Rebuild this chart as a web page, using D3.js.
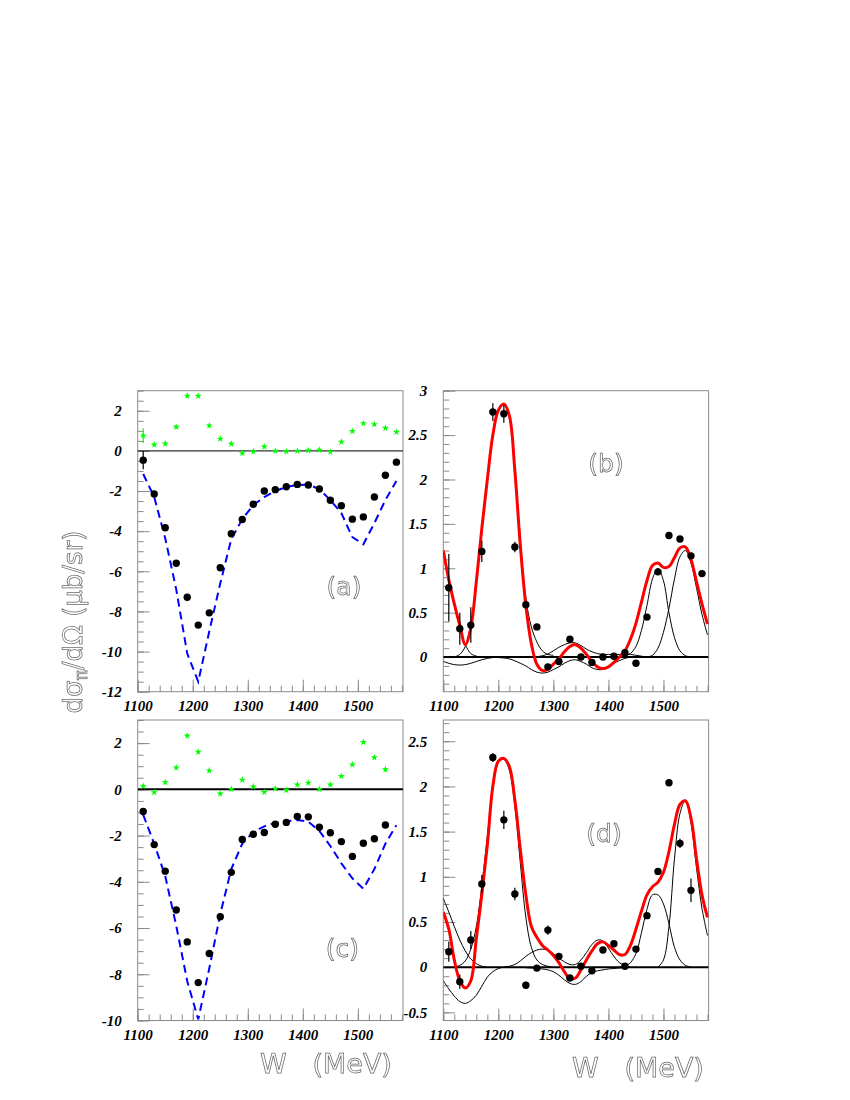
<!DOCTYPE html>
<html><head><meta charset="utf-8">
<script src="https://cdn.jsdelivr.net/npm/d3@7"></script>
<style>
body{margin:0;background:#fff;}
.tick text{font-family:"Liberation Serif","DejaVu Serif",serif;font-weight:bold;font-style:italic;font-size:15px;fill:#000;}
.hollow{font-family:"DejaVu Sans",sans-serif;fill:#fff;stroke:#6a6a6a;stroke-width:0.75px;}
.titles{opacity:0.995;}
</style>
</head><body>
<script>
// ---------------- DATA ----------------
const W24 = [1110,1130,1150,1170,1190,1210,1230,1250,1270,1290,1310,1330,1350,1370,1390,1410,1430,1450,1470,1490,1510,1530,1550,1570];
const W23 = W24.slice(0,23);
const xTicks = [1100,1200,1300,1400,1500];
const aYTicks = [-12,-10,-8,-6,-4,-2,0,2];
const bYTicks = [0,0.5,1,1.5,2,2.5,3];
const cYTicks = [-10,-8,-6,-4,-2,0,2];
const dYTicks = [-0.5,0,0.5,1,1.5,2,2.5];

// panel (a)
const aDots = [-0.46,-2.15,-3.83,-5.60,-7.29,-8.68,-8.07,-5.82,-4.13,-3.42,-2.66,-2.00,-1.93,-1.79,-1.67,-1.70,-1.90,-2.46,-2.73,-3.40,-3.29,-2.30,-1.21,-0.56];
const aDotErr = [0.45,0.12,0.12,0.12,0.12,0.12,0.12,0.1,0.1,0.1,0.1,0.1,0.1,0.1,0.1,0.1,0.1,0.1,0.1,0.1,0.1,0.1,0.1,0.1];
const aStars = [0.76,0.31,0.36,1.19,2.74,2.74,1.26,0.60,0.35,-0.12,-0.03,0.21,0.00,-0.03,0.00,0.02,0.05,-0.05,0.45,0.98,1.37,1.32,1.14,0.94];
const aStarErr = [0.37,0.1,0.1,0.1,0.1,0.1,0.05,0.05,0.05,0.05,0.05,0.05,0.05,0.05,0.05,0.05,0.05,0.05,0.05,0.05,0.05,0.05,0.05,0.05];
const aModel = [-1.15,-2.3,-4.35,-6.9,-10.1,-11.5,-9.0,-6.6,-4.4,-3.4,-2.7,-2.3,-2.0,-1.8,-1.7,-1.68,-1.9,-2.45,-3.1,-4.3,-4.65,-3.6,-2.45,-1.5];

// panel (b)
const bDots = [0.78,0.32,0.36,1.19,2.76,2.74,1.24,0.59,0.34,-0.11,-0.05,0.20,0.00,-0.06,0.00,0.01,0.05,-0.07,0.45,0.96,1.37,1.33,1.14,0.94];
const bErr = [0.38,0.18,0.2,0.12,0.1,0.1,0.06,0.03,0.03,0.03,0.03,0.03,0.03,0.03,0.03,0.03,0.03,0.03,0.03,0.03,0.03,0.03,0.03,0.03];
const bTotal = [[1100,1.20],[1110,0.87],[1120,0.60],[1130,0.36],[1140,0.14],[1150,0.33],[1160,0.85],[1170,1.45],[1180,2.00],[1190,2.50],[1200,2.78],[1210,2.85],[1220,2.72],[1230,2.10],[1240,1.25],[1250,0.58],[1260,0.15],[1270,-0.08],[1280,-0.15],[1290,-0.14],[1300,-0.08],[1310,-0.02],[1320,0.06],[1330,0.12],[1340,0.14],[1350,0.10],[1360,0.03],[1370,-0.05],[1380,-0.11],[1390,-0.13],[1400,-0.11],[1410,-0.06],[1420,0.00],[1430,0.07],[1440,0.20],[1450,0.38],[1460,0.62],[1470,0.86],[1480,1.03],[1490,1.06],[1500,1.01],[1510,1.02],[1520,1.12],[1530,1.23],[1540,1.24],[1550,1.10],[1560,0.85],[1570,0.60],[1580,0.37]];
const bLeftPos = [[1100,1.18],[1110,0.87],[1120,0.58],[1130,0.33],[1140,0.14],[1150,0.04],[1160,0.01],[1170,0],[1180,0]];
const bDelta = [[1120,0],[1130,0.03],[1140,0.12],[1150,0.36],[1160,0.86],[1170,1.46],[1180,2.0],[1190,2.5],[1200,2.78],[1210,2.85],[1220,2.72],[1230,2.12],[1240,1.32],[1250,0.66],[1260,0.34],[1270,0.17],[1280,0.07],[1290,0.03],[1300,0.02]];
const bLeftNeg = [[1100,-0.05],[1110,-0.07],[1120,-0.085],[1130,-0.09],[1140,-0.085],[1150,-0.07],[1160,-0.05],[1170,-0.03],[1180,-0.015],[1190,-0.005],[1200,0]];
const bMidUpper = [[1250,0],[1270,0.005],[1280,0.015],[1290,0.035],[1300,0.07],[1310,0.11],[1320,0.14],[1330,0.16],[1340,0.16],[1350,0.13],[1360,0.09],[1370,0.06],[1380,0.04],[1390,0.03],[1400,0.03],[1410,0.03],[1420,0.03],[1430,0.04],[1440,0.03],[1450,0.02],[1460,0.01],[1470,0]];
const bMidLower = [[1190,0],[1200,-0.005],[1220,-0.02],[1240,-0.07],[1250,-0.1],[1260,-0.14],[1270,-0.17],[1280,-0.18],[1290,-0.17],[1300,-0.14],[1310,-0.11],[1320,-0.07],[1330,-0.04],[1340,-0.03],[1350,-0.05],[1360,-0.08],[1370,-0.12],[1380,-0.14],[1390,-0.14],[1400,-0.11],[1410,-0.07],[1420,-0.04],[1430,-0.015],[1440,0]];
const bG1490 = [[1420,0],[1430,0.01],[1440,0.04],[1450,0.12],[1460,0.3],[1470,0.58],[1480,0.88],[1490,1.0],[1500,0.86],[1510,0.5],[1520,0.22],[1530,0.07],[1540,0.015],[1550,0]];
const bG1535 = [[1470,0],[1480,0.02],[1490,0.1],[1500,0.28],[1510,0.55],[1520,0.88],[1530,1.13],[1540,1.2],[1550,1.06],[1560,0.78],[1570,0.48],[1580,0.25]];

// panel (c)
const cDots = [-0.96,-2.39,-3.54,-5.22,-6.60,-8.36,-7.10,-5.51,-3.59,-2.17,-1.94,-1.87,-1.51,-1.43,-1.17,-1.19,-1.64,-1.88,-2.26,-2.90,-2.33,-2.14,-1.54];
const cDotErr = [0.12,0.12,0.12,0.12,0.12,0.12,0.12,0.1,0.1,0.1,0.1,0.1,0.1,0.1,0.1,0.1,0.1,0.1,0.1,0.1,0.1,0.1,0.1];
const cStars = [0.14,-0.13,0.30,0.94,2.32,1.62,0.81,-0.19,0.01,0.41,0.12,-0.12,0.03,-0.04,0.20,0.28,0.01,0.20,0.57,1.07,2.04,1.38,0.86];
const cStarErr = [0.08,0.06,0.08,0.08,0.05,0.08,0.06,0.04,0.03,0.04,0.03,0.03,0.03,0.03,0.03,0.03,0.03,0.03,0.03,0.03,0.03,0.05,0.1];
const cModel = [-1.1,-2.35,-3.75,-5.9,-8.3,-9.95,-7.75,-5.4,-3.45,-2.35,-1.85,-1.6,-1.45,-1.38,-1.33,-1.4,-1.8,-2.45,-3.2,-3.85,-4.3,-3.45,-2.35,-1.55];

// panel (d)
const dDots = [0.17,-0.16,0.30,0.92,2.32,1.63,0.81,-0.20,-0.01,0.41,0.12,-0.12,0.01,-0.04,0.19,0.26,0.01,0.20,0.57,1.06,2.04,1.37,0.85];
const dErr = [0.11,0.08,0.1,0.1,0.05,0.1,0.07,0.04,0.03,0.05,0.03,0.03,0.03,0.03,0.03,0.03,0.03,0.03,0.03,0.03,0.03,0.05,0.13];
const dTotal = [[1100,0.61],[1110,0.42],[1120,0.08],[1130,-0.15],[1140,-0.23],[1150,-0.15],[1160,0.32],[1170,0.80],[1180,1.35],[1190,2.0],[1200,2.28],[1210,2.31],[1220,2.22],[1230,1.85],[1240,1.30],[1250,0.80],[1260,0.45],[1270,0.33],[1280,0.24],[1290,0.19],[1300,0.13],[1310,0.05],[1320,-0.05],[1330,-0.13],[1340,-0.12],[1350,-0.03],[1360,0.08],[1370,0.18],[1380,0.26],[1390,0.28],[1400,0.24],[1410,0.19],[1420,0.14],[1430,0.14],[1440,0.24],[1450,0.42],[1460,0.62],[1470,0.80],[1480,0.89],[1490,0.94],[1500,1.05],[1510,1.28],[1520,1.58],[1530,1.80],[1540,1.84],[1550,1.65],[1560,1.2],[1570,0.8],[1580,0.55]];
const dLeftPos = [[1100,0.76],[1110,0.61],[1120,0.45],[1130,0.3],[1140,0.18],[1150,0.09],[1160,0.04],[1170,0.01],[1180,0]];
const dDelta = [[1120,0],[1130,0.02],[1140,0.07],[1150,0.2],[1160,0.45],[1170,0.9],[1180,1.45],[1190,1.98],[1200,2.26],[1210,2.3],[1220,2.18],[1230,1.78],[1240,1.15],[1250,0.55],[1260,0.22],[1270,0.08],[1280,0.03],[1290,0.01],[1300,0]];
const dLeftNeg = [[1100,-0.15],[1110,-0.24],[1120,-0.32],[1130,-0.38],[1140,-0.40],[1150,-0.37],[1160,-0.31],[1170,-0.21],[1180,-0.11],[1190,-0.05],[1200,-0.015],[1210,0],[1220,0]];
const dMidUpper = [[1210,0],[1220,0.01],[1230,0.03],[1240,0.07],[1250,0.12],[1260,0.16],[1270,0.19],[1280,0.2],[1290,0.19],[1300,0.15],[1310,0.1],[1320,0.06],[1330,0.03],[1340,0.03],[1350,0.08],[1360,0.16],[1370,0.25],[1380,0.3],[1390,0.29],[1400,0.21],[1410,0.12],[1420,0.05],[1430,0.02],[1440,0]];
const dMidLower = [[1240,0],[1260,-0.01],[1280,-0.02],[1290,-0.03],[1300,-0.05],[1310,-0.09],[1320,-0.14],[1330,-0.18],[1340,-0.19],[1350,-0.16],[1360,-0.1],[1370,-0.06],[1380,-0.04],[1390,-0.03],[1400,-0.02],[1420,-0.01],[1440,0]];
const dG1480 = [[1420,0],[1430,0.01],[1440,0.05],[1450,0.15],[1460,0.38],[1470,0.64],[1480,0.8],[1490,0.8],[1500,0.7],[1510,0.48],[1520,0.22],[1530,0.08],[1540,0.02],[1550,0]];
const dG1540 = [[1490,0],[1500,0.08],[1510,0.45],[1520,1.2],[1530,1.7],[1540,1.85],[1550,1.6],[1560,1.1],[1570,0.65],[1580,0.35]];

// ---------------- DRAW ----------------
const svg = d3.select("body").append("svg").attr("width",850).attr("height",1100);
const FRAME = "#8a8a8a";
const titles = svg.append("g").attr("class","titles");

function makePanel(o){
  const x = d3.scaleLinear().domain([1100,1582]).range([o.x0, o.x1]);
  const y = d3.scaleLinear().domain(o.yDom).range([o.y1, o.y0]);
  const g = svg.append("g");
  const cid = "clip"+o.name;
  svg.append("clipPath").attr("id",cid).append("rect")
    .attr("x",o.x0).attr("y",o.y0).attr("width",o.x1-o.x0).attr("height",o.y1-o.y0);
  const yMinor = d3.range(Math.ceil(o.yDom[0]/o.yMinorStep)*o.yMinorStep, o.yDom[1]+1e-9, o.yMinorStep);
  const xMinor = d3.range(1100, 1582, 20);
  const yaxMinor = g.append("g").attr("transform",`translate(${o.x0},0)`)
    .call(d3.axisLeft(y).tickValues(yMinor).tickSize(-6).tickFormat(""));
  const yax = g.append("g").attr("transform",`translate(${o.x0},0)`)
    .call(d3.axisLeft(y).tickValues(o.yTicks).tickSize(-12).tickPadding(16).tickFormat(d=>String(d)));
  const xaxMinor = g.append("g").attr("transform",`translate(0,${o.y1})`)
    .call(d3.axisBottom(x).tickValues(xMinor).tickSize(-6).tickFormat(""));
  const xax = g.append("g").attr("transform",`translate(0,${o.y1})`)
    .call(d3.axisBottom(x).tickValues(xTicks).tickSize(-12).tickPadding(9).tickFormat(d=>String(d)));
  [yaxMinor,yax,xaxMinor,xax].forEach(a=>{
    a.select(".domain").remove();
    a.selectAll(".tick line").attr("stroke",FRAME);
  });
  g.append("rect").attr("x",o.x0).attr("y",o.y0).attr("width",o.x1-o.x0).attr("height",o.y1-o.y0)
    .attr("fill","none").attr("stroke",FRAME).attr("stroke-width",1);
  const pg = g.append("g").attr("clip-path",`url(#${cid})`);
  pg.append("line").attr("x1",o.x0).attr("x2",o.x1).attr("y1",y(0)).attr("y2",y(0))
    .attr("stroke","#000").attr("stroke-width",o.zeroW);
  return {x,y,g,pg};
}

function drawErrDots(P, xs, vs, es, color){
  P.pg.append("g").selectAll("line").data(xs).join("line")
    .attr("x1",(d)=>P.x(d)).attr("x2",(d)=>P.x(d))
    .attr("y1",(d,i)=>P.y(vs[i]-es[i])).attr("y2",(d,i)=>P.y(vs[i]+es[i]))
    .attr("stroke",color).attr("stroke-width",1.2);
  P.pg.append("g").selectAll("circle").data(xs).join("circle")
    .attr("cx",d=>P.x(d)).attr("cy",(d,i)=>P.y(vs[i])).attr("r",3.7).attr("fill",color);
}
function drawStars(P, xs, vs, es){
  P.pg.append("g").selectAll("line").data(xs).join("line")
    .attr("x1",(d)=>P.x(d)).attr("x2",(d)=>P.x(d))
    .attr("y1",(d,i)=>P.y(vs[i]-es[i])).attr("y2",(d,i)=>P.y(vs[i]+es[i]))
    .attr("stroke","#00ee00").attr("stroke-width",1);
  const sym = d3.symbol(d3.symbolStar, 16);
  P.pg.append("g").selectAll("path").data(xs).join("path")
    .attr("d",sym).attr("transform",(d,i)=>`translate(${P.x(d)},${P.y(vs[i])})`)
    .attr("fill","#00ff00");
}
function drawDashed(P, xs, vs){
  const line = d3.line().x(d=>P.x(d[0])).y(d=>P.y(d[1]));
  P.pg.append("path").datum(xs.map((w,i)=>[w,vs[i]])).attr("d",line)
    .attr("fill","none").attr("stroke","#0000ff").attr("stroke-width",2).attr("stroke-dasharray","8,5");
}
function drawCurve(P, pts, color, w){
  const line = d3.line().x(d=>P.x(d[0])).y(d=>P.y(d[1])).curve(d3.curveCatmullRom.alpha(0.5));
  P.pg.append("path").datum(pts).attr("d",line)
    .attr("fill","none").attr("stroke",color).attr("stroke-width",w).attr("stroke-linejoin","round");
}
function label(txt, cx, by){
  titles.append("text").attr("class","hollow").attr("x",cx).attr("y",by)
    .attr("text-anchor","middle").attr("font-size",25).text(txt);
}

const XL0 = 137.7, XL1 = 403, XR0 = 443.3, XR1 = 708.6;
const YT0 = 390.7, YT1 = 691.7, YB0 = 720, YB1 = 1020.5;

const A = makePanel({name:"a",x0:XL0,x1:XL1,y0:YT0,y1:YT1,yDom:[-12,3],yTicks:aYTicks,yMinorStep:0.5,zeroW:1});
drawStars(A, W24, aStars, aStarErr);
drawDashed(A, W24, aModel);
drawErrDots(A, W24, aDots, aDotErr, "#000");
label("(a)", 344, 595);

const B = makePanel({name:"b",x0:XR0,x1:XR1,y0:YT0,y1:YT1,yDom:[-0.39,3.0],yTicks:bYTicks,yMinorStep:0.1,zeroW:2});
[bLeftPos,bDelta,bLeftNeg,bMidUpper,bMidLower,bG1490,bG1535].forEach(c=>drawCurve(B,c,"#000",1));
drawCurve(B, bTotal, "#ff0000", 3);
drawErrDots(B, W24, bDots, bErr, "#000");
label("(b)", 606, 472);

const C = makePanel({name:"c",x0:XL0,x1:XL1,y0:YB0,y1:YB1,yDom:[-10,3],yTicks:cYTicks,yMinorStep:0.5,zeroW:2});
drawStars(C, W23, cStars, cStarErr);
drawDashed(C, W24, cModel);
drawErrDots(C, W23, cDots, cDotErr, "#000");
label("(c)", 342.5, 957);

const D = makePanel({name:"d",x0:XR0,x1:XR1,y0:YB0,y1:YB1,yDom:[-0.59,2.735],yTicks:dYTicks,yMinorStep:0.1,zeroW:2});
[dLeftPos,dDelta,dLeftNeg,dMidUpper,dMidLower,dG1480,dG1540].forEach(c=>drawCurve(D,c,"#000",1));
drawCurve(D, dTotal, "#ff0000", 3);
drawErrDots(D, W23, dDots, dErr, "#000");
label("(d)", 604, 842);

svg.node().appendChild(titles.node());

function xTitle(x0, yb){
  titles.append("text").attr("class","hollow").attr("x",x0).attr("y",yb).attr("font-size",27)
    .style("white-space","pre").text("W   (MeV)");
}
xTitle(260, 1073);
xTitle(572, 1077);

const yt = titles.append("text").attr("class","hollow").attr("font-size",26)
  .attr("transform","translate(82,622) rotate(-90)").attr("text-anchor","middle")
  .style("white-space","pre");
yt.append("tspan").text("dσ");
yt.append("tspan").attr("font-size",17).attr("dy",5).text("π");
yt.append("tspan").attr("dy",-5).text("/dΩ (μb/sr)");
</script>
</body></html>
